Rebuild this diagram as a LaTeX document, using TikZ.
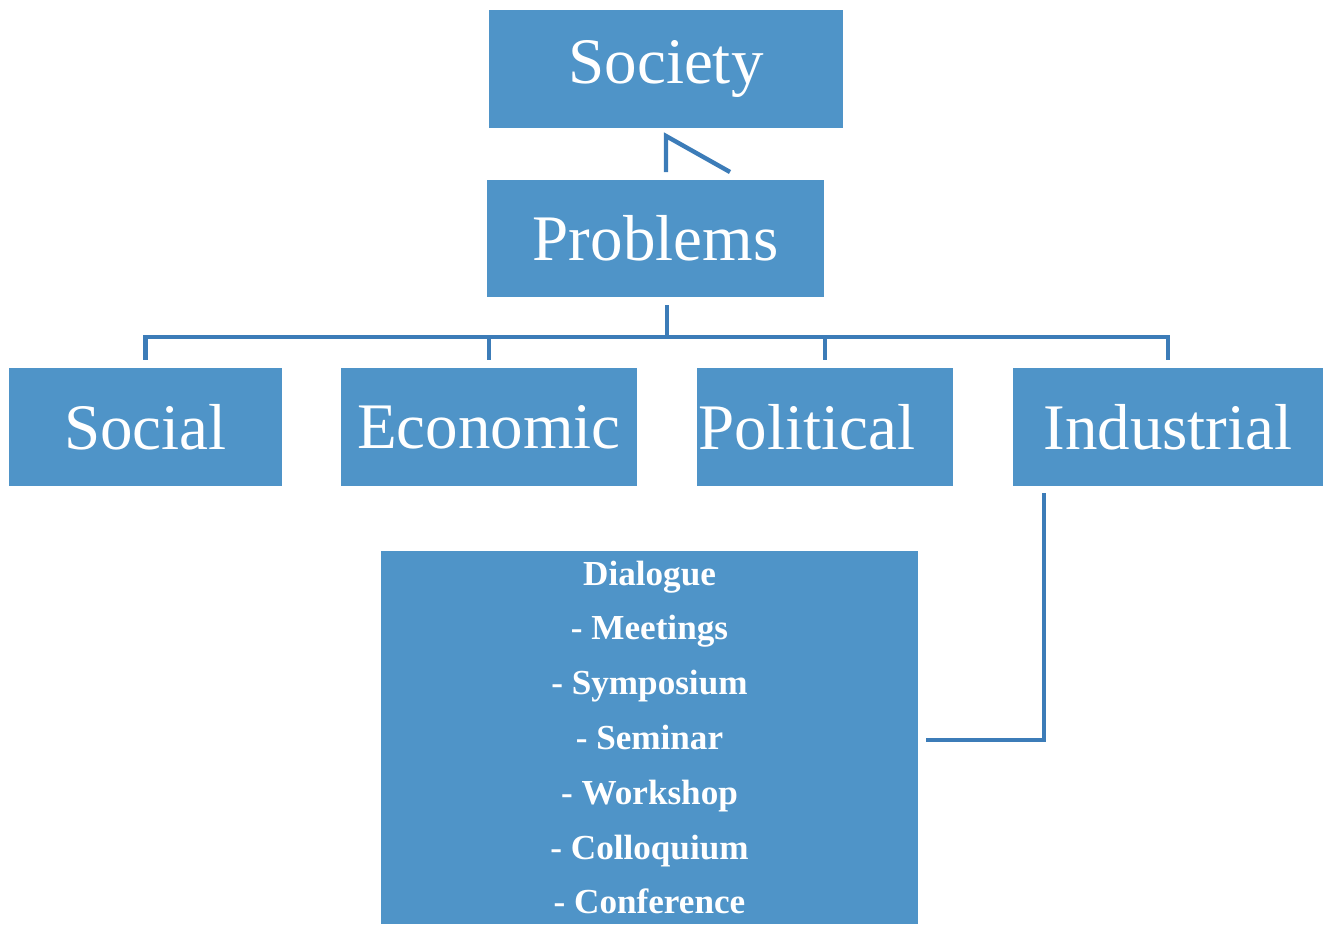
\documentclass[tikz,border=0pt]{standalone}
\usepackage{fontspec}
\setmainfont{Liberation Serif}
\usetikzlibrary{positioning, calc}
\definecolor{boxblue}{RGB}{79,148,200}
\definecolor{lineblue}{RGB}{60,124,184}

\begin{document}
\begin{tikzpicture}[x=0.02cm, y=-0.02cm,
    tier/.style={fill=boxblue, text=white, inner sep=0pt, minimum height=2.36cm,
        font=\fontsize{37}{40}\selectfont},
    listbox/.style={fill=boxblue, text=white, inner sep=0pt, align=center,
        font=\bfseries\fontsize{20}{31.2}\selectfont},
    link/.style={draw=lineblue, line width=2.5pt}]

        \useasboundingbox (0, 0) rectangle (1324, 924);

        % top of the tree
        \node[tier, minimum width=7.08cm] (Society) at (666, 69) {Society};
        \node[tier, minimum width=6.74cm, minimum height=2.34cm] (Problems) at (655.5, 238.5) {Problems};

        % kinds of problems
        \node[tier, minimum width=5.46cm] (Social) at (145.5, 427) {Social};
        \node[tier, minimum width=5.92cm] (Economic) at (489, 427) {Economic};
        \node[tier, minimum width=5.12cm] (Political) at (825, 427) {\hspace*{-0.72cm}Political};
        \node[tier, minimum width=6.2cm] (Industrial) at (1168, 427) {Industrial};

        \node[listbox, minimum width=10.74cm, minimum height=7.46cm] (Dialogue) at (649.5, 737.5)
            {Dialogue\\- Meetings\\- Symposium\\- Seminar\\- Workshop\\- Colloquium\\- Conference};

        % Society <- Problems
        \coordinate (kinkFoot) at (666, 172);
        \coordinate (kinkTop) at (666, 136);
        \coordinate (kinkEnd) at (730, 172);
        \draw[link] (kinkFoot) -- (kinkTop) -- (kinkEnd);

        % the bus under Problems
        \coordinate (bus) at (667, 337);
        \draw[link, shorten <=4.5pt] (bus |- Problems.south) -- (bus);
        \draw[link] ([yshift=4.5pt]Social.north) |- (Industrial.north |- bus) -- ([yshift=4.5pt]Industrial.north);
        \draw[link] ([yshift=4.5pt]Economic.north) -- (Economic.north |- bus);
        \draw[link] ([yshift=4.5pt]Political.north) -- (Political.north |- bus);

        % Industrial -> Dialogue
        \coordinate (indFoot) at (1044, 740);
        \draw[link, shorten <=4pt] (indFoot |- Industrial.south) -- (indFoot)
            -- ($(Dialogue.east |- indFoot) + (8, 0)$);

    \end{tikzpicture}
\end{document}
